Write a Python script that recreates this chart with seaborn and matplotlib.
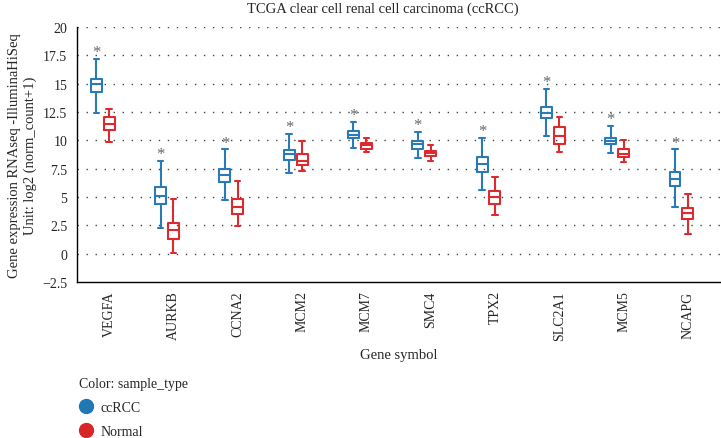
import numpy as np
import pandas as pd
import matplotlib
matplotlib.use("Agg")
import matplotlib.pyplot as plt
from matplotlib.lines import Line2D
import seaborn as sns

genes = ["VEGFA", "AURKB", "CCNA2", "MCM2", "MCM7", "SMC4", "TPX2", "SLC2A1", "MCM5", "NCAPG"]

# five-number summaries: low whisker, q1, median, q3, high whisker
tumor_low = [12.45, 2.3, 4.75, 7.1, 9.35, 8.4, 5.6, 10.4, 8.9, 4.1]
tumor_q1 = [14.25, 4.4, 6.3, 8.3, 10.2, 9.25, 7.25, 11.95, 9.7, 5.95]
tumor_med = [15.0, 5.05, 6.9, 8.8, 10.5, 9.65, 7.9, 12.45, 9.95, 6.55]
tumor_q3 = [15.45, 5.9, 7.5, 9.15, 10.8, 9.9, 8.55, 12.95, 10.25, 7.25]
tumor_high = [17.2, 8.2, 9.2, 10.55, 11.65, 10.75, 10.25, 14.55, 11.25, 9.2]

normal_low = [9.85, 0.05, 2.4, 7.3, 8.95, 8.2, 3.4, 8.95, 8.05, 1.75]
normal_q1 = [10.9, 1.3, 3.5, 7.8, 9.25, 8.6, 4.35, 9.7, 8.5, 3.05]
normal_med = [11.45, 2.05, 4.15, 8.2, 9.55, 8.9, 5.0, 10.4, 8.8, 3.55]
normal_q3 = [12.05, 2.75, 4.8, 8.8, 9.8, 9.1, 5.55, 11.15, 9.2, 4.05]
normal_high = [12.8, 4.8, 6.4, 9.95, 10.25, 9.55, 6.8, 12.05, 10.05, 5.3]

groups = ["ccRCC", "Normal"]
colors = ["#2a7ab8", "#dd2a2f"]
legend_colors = ["#1f77b4", "#d62728"]

rows = []
for i, g in enumerate(genes):
    for v in [tumor_low[i], tumor_q1[i], tumor_med[i], tumor_q3[i], tumor_high[i]]:
        rows.append((g, "ccRCC", v))
    for v in [normal_low[i], normal_q1[i], normal_med[i], normal_q3[i], normal_high[i]]:
        rows.append((g, "Normal", v))
df = pd.DataFrame(rows, columns=["gene", "sample_type", "value"])

sns.set_style("white")
plt.rcParams["font.family"] = ["Liberation Serif", "DejaVu Serif"]

fig = plt.figure(figsize=(7.21, 4.39), dpi=100)
ax = fig.add_axes([77 / 721, 1 - 283 / 439, 643 / 721, 255 / 439])

sns.boxplot(data=df, x="gene", y="value", hue="sample_type", order=genes,
            hue_order=groups, palette=colors, fill=False, width=0.4, gap=0.15,
            whis=(0, 100), linewidth=1.5, legend=False, ax=ax, zorder=3)

# significance stars above tumour boxes
for i, top in enumerate(tumor_high):
    ax.text(i - 0.1, top + 0.6, "*", ha="center", va="center",
            fontsize=12, color="#666666")

ax.set_xlim(-0.4, 9.6)
ax.set_ylim(-2.5, 20)
yt = np.arange(-2.5, 20.1, 2.5)
ax.set_yticks(yt)
ax.set_yticklabels(["%g" % t if t >= 0 else "\u22122.5" for t in yt], fontsize=10)
for t in yt[1:]:
    ax.axhline(t, color="#444444", lw=1.0, ls=(0, (1, 5.5)), zorder=1)

ax.set_xticks(np.arange(len(genes)) + 0.1)
ax.set_xticklabels(genes, rotation=90, fontsize=10)
ax.set_xticks(np.arange(len(genes) + 1) - 0.4, minor=True)
ax.tick_params(axis="x", which="major", length=0, pad=6)
ax.tick_params(axis="x", which="minor", length=6, width=1, color="black", direction="out")
ax.tick_params(axis="y", length=5, width=1, color="black", direction="out", pad=2)

for s in ["top", "right"]:
    ax.spines[s].set_visible(False)
for s in ["left", "bottom"]:
    ax.spines[s].set_color("black")
    ax.spines[s].set_linewidth(1.0)

ax.set_xlabel("Gene symbol", fontsize=10.5, labelpad=6)
ax.set_ylabel("Gene expression RNAseq -IlluminaHiSeq\nUnit: log2 (norm_count+1)",
              fontsize=10.5, labelpad=4, linespacing=1.2)

fig.text(383 / 721, 1 - 9 / 439, "TCGA clear cell renal cell carcinoma (ccRCC)",
         ha="center", va="center", fontsize=10.5)

handles = [Line2D([], [], marker="o", ls="", markersize=10, color=c) for c in legend_colors]
leg = fig.legend(handles, groups, title="Color: sample_type", loc="upper left",
                 bbox_to_anchor=(73 / 721, 1 - 372 / 439), frameon=False,
                 fontsize=10, title_fontsize=10, alignment="left",
                 handletextpad=0.6, labelspacing=0.8, handlelength=1.0,
                 borderaxespad=0)

fig.savefig("out.png", dpi=100)
